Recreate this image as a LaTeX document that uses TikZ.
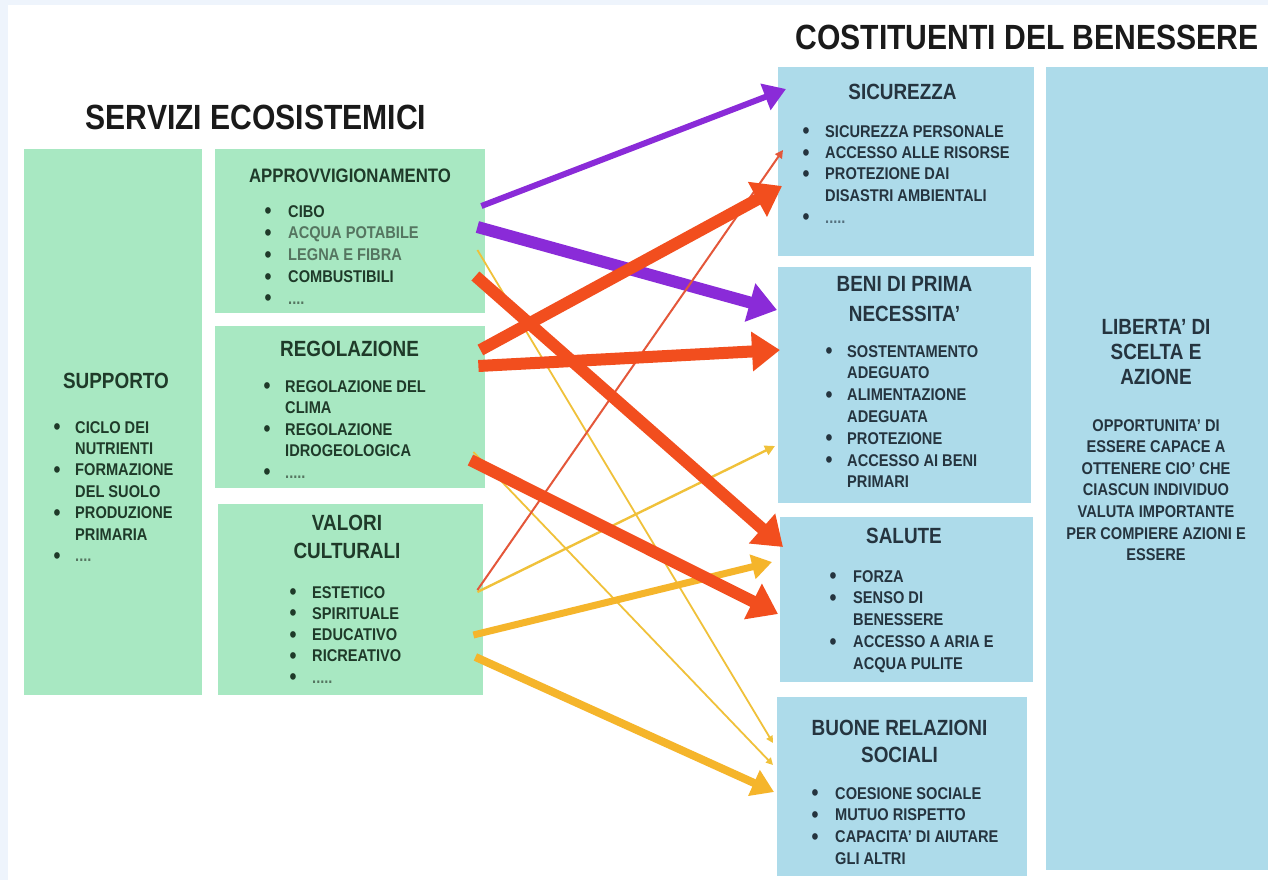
\documentclass[tikz,border=0pt]{standalone}
\usepackage{fontspec}
\setmainfont{Liberation Sans}[FakeStretch=0.86]
\usetikzlibrary{arrows.meta,calc}
\definecolor{gfill}{HTML}{A8E8C2}
\definecolor{bfill}{HTML}{ADDBEA}
\definecolor{gtext}{HTML}{1F3A29}
\definecolor{glight}{HTML}{557560}
\definecolor{btext}{HTML}{25343F}
\definecolor{blight}{HTML}{55707E}
\definecolor{purp}{HTML}{8A2BD8}
\definecolor{redo}{HTML}{F24E1E}
\definecolor{redthin}{HTML}{E4573A}
\definecolor{yel}{HTML}{F5B52B}
\definecolor{yelthin}{HTML}{F0C13A}
\definecolor{bgblue}{HTML}{EEF4FC}
\definecolor{titlec}{HTML}{1A1A1A}
\newcommand\bul{\makebox[5pt][c]{\raisebox{-1.6pt}{\fontsize{23}{23}\selectfont •}}}
\newcommand\blst[2]{\begin{tabular}[t]{@{}l@{\hspace{#1pt}}l@{}}#2\end{tabular}}
\newcommand\hlines[1]{\begin{tabular}[t]{@{}c@{}}#1\end{tabular}}
\begin{document}
\begin{tikzpicture}[x=1pt,y=-1pt,
  gbox/.style={fill=gfill,draw=none,inner sep=0,anchor=north west},
  bbox/.style={fill=bfill,draw=none,inner sep=0,anchor=north west},
  ttl/.style={font=\fontsize{35}{40}\selectfont\bfseries,text=titlec,inner sep=0,anchor=base},
  hd/.style={font=\fontsize{22}{27}\selectfont\bfseries,inner sep=0,anchor=base},
  lst/.style={font=\fontsize{17}{21.6}\selectfont\bfseries,inner sep=0,anchor=base west},
  body/.style={font=\fontsize{17}{21.6}\selectfont\bfseries,inner sep=0,anchor=base},
  arrbig/.style={line width=12pt,-{Triangle[length=28pt,width=38pt]}},
  arrthin/.style={line width=2pt,-{Triangle[length=8pt,width=8pt]}},
]
\useasboundingbox (0,0) rectangle (1268,880);
\fill[bgblue] (0,0) rectangle (1268,880);
\fill[white] (8,5) rectangle (1268,880);

% titles
\node[ttl] (t1) at (256,130) {SERVIZI ECOSISTEMICI};
\node[ttl] (t2) at (1027,50) {COSTITUENTI DEL BENESSERE};

% green boxes
\node[gbox,minimum width=178,minimum height=546] (supp) at (24,149) {};
\node[gbox,minimum width=270,minimum height=164] (appr) at (215,149) {};
\node[gbox,minimum width=270,minimum height=162] (regl) at (215,326) {};
\node[gbox,minimum width=265,minimum height=191] (valo) at (218,504) {};
% blue boxes
\node[bbox,minimum width=256,minimum height=189] (sicu) at (778,67) {};
\node[bbox,minimum width=253,minimum height=236] (beni) at (778,267) {};
\node[bbox,minimum width=253,minimum height=165] (salu) at (780,517) {};
\node[bbox,minimum width=250,minimum height=179] (buon) at (777,697) {};
\node[bbox,minimum width=222,minimum height=803] (libe) at (1046,67) {};

% green texts
\node[hd,text=gtext] (supph) at (116,388) {SUPPORTO};
\node[lst,text=gtext,font=\fontsize{17}{21.4}\selectfont\bfseries] (suppl) at (54.5,433) {\blst{15.5}{%
\bul & CICLO DEI\\ & NUTRIENTI\\ \bul & FORMAZIONE\\ & DEL SUOLO\\ \bul & PRODUZIONE\\ & PRIMARIA\\ \bul & \textcolor{glight}{....}}};

\node[hd,text=gtext,font=\fontsize{19.5}{24}\selectfont\bfseries] (apprh) at (350,182) {APPROVVIGIONAMENTO};
\node[lst,text=gtext,font=\fontsize{17}{21.8}\selectfont\bfseries] (apprl) at (265.5,217) {\blst{17.5}{%
\bul & CIBO\\ \bul & \textcolor{glight}{ACQUA POTABILE}\\ \bul & \textcolor{glight}{LEGNA E FIBRA}\\ \bul & COMBUSTIBILI\\ \bul & \textcolor{glight}{....}}};

\node[hd,text=gtext] (reglh) at (349.5,356) {REGOLAZIONE};
\node[lst,text=gtext,font=\fontsize{17}{21.5}\selectfont\bfseries] (regll) at (264.5,392) {\blst{15.5}{%
\bul & REGOLAZIONE DEL\\ & CLIMA\\ \bul & REGOLAZIONE\\ & IDROGEOLOGICA\\ \bul & \textcolor{glight}{.....}}};

\node[hd,text=gtext,font=\fontsize{22}{28}\selectfont\bfseries] (valoh) at (347,530) {\hlines{VALORI\\CULTURALI}};
\node[lst,text=gtext,font=\fontsize{17}{21.3}\selectfont\bfseries] (valol) at (290.5,598) {\blst{16.5}{%
\bul & ESTETICO\\ \bul & SPIRITUALE\\ \bul & EDUCATIVO\\ \bul & RICREATIVO\\ \bul & \textcolor{glight}{.....}}};

% blue texts
\node[hd,text=btext] (sicuh) at (902.5,100) {SICUREZZA};
\node[lst,text=btext,font=\fontsize{17}{21.5}\selectfont\bfseries] (sicul) at (803.5,137) {\blst{16.5}{%
\bul & SICUREZZA PERSONALE\\ \bul & ACCESSO ALLE RISORSE\\ \bul & PROTEZIONE DAI\\ & DISASTRI AMBIENTALI\\ \bul & \textcolor{blight}{.....}}};

\node[hd,text=btext,font=\fontsize{22}{30}\selectfont\bfseries] (benih) at (904.5,291) {\hlines{BENI DI PRIMA\\NECESSITA'}};
\node[lst,text=btext,font=\fontsize{17}{21.8}\selectfont\bfseries] (benil) at (826.5,357) {\blst{15.5}{%
\bul & SOSTENTAMENTO\\ & ADEGUATO\\ \bul & ALIMENTAZIONE\\ & ADEGUATA\\ \bul & PROTEZIONE\\ \bul & ACCESSO AI BENI\\ & PRIMARI}};

\node[hd,text=btext] (saluh) at (904,543) {SALUTE};
\node[lst,text=btext,font=\fontsize{17}{21.8}\selectfont\bfseries] (salul) at (830.5,582) {\blst{17.5}{%
\bul & FORZA\\ \bul & SENSO DI\\ & BENESSERE\\ \bul & ACCESSO A ARIA E\\ & ACQUA PULITE}};

\node[hd,text=btext,font=\fontsize{22}{27}\selectfont\bfseries] (buonh) at (899.5,735) {\hlines{BUONE RELAZIONI\\SOCIALI}};
\node[lst,text=btext,font=\fontsize{17}{21.8}\selectfont\bfseries] (buonl) at (812.5,799) {\blst{17.5}{%
\bul & COESIONE SOCIALE\\ \bul & MUTUO RISPETTO\\ \bul & CAPACITA' DI AIUTARE\\ & GLI ALTRI}};

\node[hd,text=btext,font=\fontsize{22}{25}\selectfont\bfseries] (libeh) at (1156,334) {\hlines{LIBERTA' DI\\SCELTA E\\AZIONE}};
\node[body,text=btext,font=\fontsize{17}{21.6}\selectfont\bfseries] (libeb) at (1156,431) {\hlines{OPPORTUNITA' DI\\ESSERE CAPACE A\\OTTENERE CIO' CHE\\CIASCUN INDIVIDUO\\VALUTA IMPORTANTE\\PER COMPIERE AZIONI E\\ESSERE}};

% arrow end points
\coordinate (p1s) at ($(appr.north east)+(-4,57)$);
\coordinate (p1e) at ($(sicu.north west)+(8,22)$);
\coordinate (p2s) at ($(appr.north east)+(-8,78)$);
\coordinate (p2e) at ($(beni.north west)+(-1,43)$);
\coordinate (r1s) at ($(regl.north east)+(-5,24)$);
\coordinate (r1e) at ($(sicu.north west)+(4,119)$);
\coordinate (r2s) at ($(regl.north east)+(-7,40)$);
\coordinate (r2e) at ($(beni.north west)+(2,83)$);
\coordinate (r3s) at ($(appr.north east)+(-10,127)$);
\coordinate (r3e) at ($(salu.north west)+(3,30)$);
\coordinate (r4s) at ($(regl.north east)+(-15,134)$);
\coordinate (r4e) at ($(salu.north west)+(-2,97)$);
\coordinate (r5s) at ($(valo.north east)+(-6,86)$);
\coordinate (r5e) at ($(sicu.north west)+(5,83)$);
\coordinate (y1s) at ($(appr.north east)+(-8,101)$);
\coordinate (y1e) at ($(buon.north west)+(-4,46)$);
\coordinate (y2s) at ($(regl.north east)+(-12,126)$);
\coordinate (y2e) at ($(buon.north west)+(-4,68)$);
\coordinate (y3s) at ($(valo.north east)+(-6,88)$);
\coordinate (y3e) at ($(beni.north west)+(-3,179)$);
\coordinate (y4s) at ($(valo.north east)+(-10,131)$);
\coordinate (y4e) at ($(salu.north west)+(-8,45)$);
\coordinate (y5s) at ($(valo.north east)+(-8,153)$);
\coordinate (y5e) at ($(buon.north west)+(-3,95)$);

% yellow arrows
\draw[yelthin,line width=1.8pt,-{Triangle[length=7pt,width=7pt]}] (y1s) -- (y1e);
\draw[yelthin,line width=1.8pt,-{Triangle[length=7pt,width=7pt]}] (y2s) -- (y2e);
\draw[yelthin,line width=2.4pt,-{Triangle[length=10pt,width=10pt]}] (y3s) -- (y3e);
\draw[yel,line width=7pt,-{Triangle[length=20pt,width=24pt]}] (y4s) -- (y4e);
\draw[yel,line width=8pt,-{Triangle[length=22pt,width=27pt]}] (y5s) -- (y5e);
% purple arrows
\draw[purp,line width=6pt,-{Triangle[length=22pt,width=27pt]}] (p1s) -- (p1e);
\draw[purp,arrbig] (p2s) -- (p2e);
% red arrows
\draw[redthin,arrthin] (r5s) -- (r5e);
\draw[redo,arrbig] (r1s) -- (r1e);
\draw[redo,arrbig] (r2s) -- (r2e);
\draw[redo,arrbig] (r3s) -- (r3e);
\draw[redo,arrbig] (r4s) -- (r4e);
\end{tikzpicture}
\end{document}
